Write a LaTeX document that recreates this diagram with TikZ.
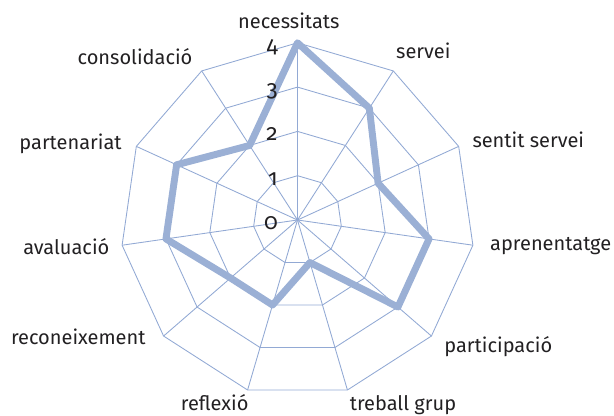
\documentclass[tikz,border=0pt]{standalone}
\usepackage{fontspec}
\setmainfont[Numbers=OldStyle]{Fira Sans}
\usepackage{xcolor}
\usepackage{tikz}

\definecolor{gridblue}{RGB}{146,169,212}
\definecolor{seriesblue}{RGB}{155,176,213}
\definecolor{labelgray}{RGB}{34,32,34}

\tikzset{
  gridline/.style={draw=gridblue, line width=0.65pt},
  series/.style={draw=seriesblue, line width=5.2pt, line join=round},
  axislabel/.style={anchor=base, inner sep=0pt, text=labelgray,
    font=\fontsize{15}{18}\selectfont},
  ticklabel/.style={anchor=base east, inner sep=0pt, text=labelgray,
    font=\fontsize{17}{20}\selectfont}
}

\begin{document}
\begin{tikzpicture}[x=0.75pt, y=-0.75pt]
  \useasboundingbox (0,0) rectangle (614,416);

  % web: rings and spokes
  \begin{scope}[shift={(297.5,220)}]
    \coordinate (o) at (0,0);
    \foreach \r in {1,...,4}
      \draw[gridline] (-90:{44.3*\r})
        \foreach \i in {1,...,10} { -- ({-90+\i*360/11}:{44.3*\r}) } -- cycle;
    \foreach \i in {0,...,10}
      \draw[gridline] (o) -- ({-90+\i*360/11}:177.2);

    % series
    \draw[series] (-90:{4*44.3})
      \foreach \v [count=\i] in {3,2,3,3,1,2,2,3,3,2}
        { -- ({-90+\i*360/11}:{\v*44.3}) } -- cycle;
  \end{scope}

  % scale
  \foreach \r in {0,...,4}
    \node[ticklabel] (tick\r) at (278,{229.5-44.3*\r}) {\r};

  % categories
  \node[axislabel] (necessitats) at (288.8,28.3) {necessitats};
  \node[axislabel] (servei) at (423.3,59) {servei};
  \node[axislabel] (sentit) at (528.3,147.3) {sentit servei};
  \node[axislabel] (aprenentatge) at (550.7,250.7) {aprenentatge};
  \node[axislabel] (participacio) at (498.3,352.3) {participació};
  \node[axislabel] (treball) at (403,410.7) {treball grup};
  \node[axislabel] (reflexio) at (214.7,411) {reflexió};
  \node[axislabel] (reconeixement) at (78.3,345) {reconeixement};
  \node[axislabel] (avaluacio) at (66.3,255) {avaluació};
  \node[axislabel] (partenariat) at (70.5,150) {partenariat};
  \node[axislabel] (consolidacio) at (135,65) {consolidació};
\end{tikzpicture}
\end{document}
